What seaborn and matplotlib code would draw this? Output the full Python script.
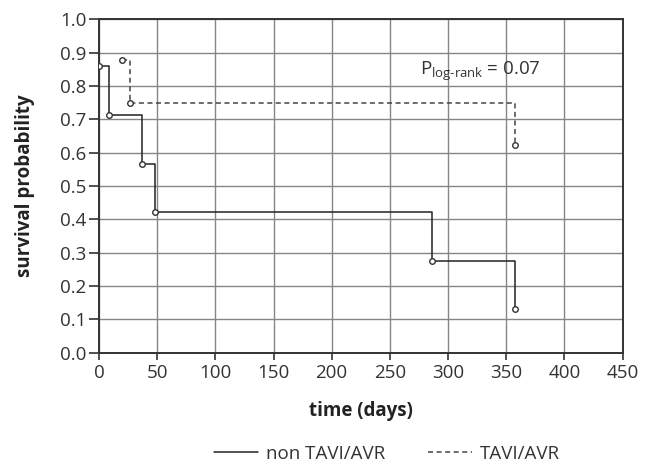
import matplotlib
matplotlib.use("Agg")
import matplotlib.pyplot as plt
from matplotlib.lines import Line2D
import seaborn as sns
import pandas as pd

# Data
non_tavi_days = [0, 8.6, 36.6, 48.5, 286, 357.5]
non_tavi_surv = [0.86, 0.714, 0.565, 0.423, 0.274, 0.130]
tavi_days = [20, 26.6, 357.5]
tavi_surv = [0.878, 0.75, 0.623]
x_ticks = [0, 50, 100, 150, 200, 250, 300, 350, 400, 450]
y_ticks = [0.0, 0.1, 0.2, 0.3, 0.4, 0.5, 0.6, 0.7, 0.8, 0.9, 1.0]
series_labels = ["non TAVI/AVR", "TAVI/AVR"]
p_text = "P$_{\\text{log-rank}}$ = 0.07"

sns.set_style("white")
plt.rcParams['font.family'] = ['Open Sans', 'DejaVu Sans']
plt.rcParams['mathtext.fontset'] = 'custom'
plt.rcParams['mathtext.rm'] = 'Open Sans'
plt.rcParams['mathtext.it'] = 'Open Sans'

FS = 13.5
fig = plt.figure(figsize=(6.52, 4.68), dpi=100)
ax = fig.add_axes([99/652, 1-352.7/468, (622.5-99)/652, (352.7-19.4)/468])

df1 = pd.DataFrame({"t": non_tavi_days, "s": non_tavi_surv})
df2 = pd.DataFrame({"t": tavi_days, "s": tavi_surv})

dark = "#222222"
dash = (0, (3.3, 2.3))
sns.lineplot(data=df1, x="t", y="s", ax=ax, drawstyle="steps-post",
             color=dark, lw=1.1, sort=False, zorder=3)
sns.lineplot(data=df2, x="t", y="s", ax=ax, drawstyle="steps-post",
             color="#444444", lw=1.1, sort=False, zorder=3,
             linestyle=dash)
for d in (df1, df2):
    sns.scatterplot(data=d, x="t", y="s", ax=ax, marker="o", s=16,
                    facecolor="white", edgecolor="#333333", linewidth=1.0,
                    zorder=4)

ax.set_xlim(0, 450)
ax.set_ylim(0, 1.0)
ax.set_xticks(x_ticks)
ax.set_yticks(y_ticks)
ax.set_yticklabels([f"{v:.1f}" for v in y_ticks])
ax.grid(True, color="#858585", lw=1.0)
ax.set_axisbelow(True)
for sp in ax.spines.values():
    sp.set_color("#333333")
    sp.set_linewidth(1.4)
    sp.set_visible(True)
ax.tick_params(axis="both", direction="out", width=1.2,
               color="#333333", labelsize=FS, labelcolor="#333333",
               left=True, bottom=True)
ax.tick_params(axis="y", length=7, pad=2)
ax.tick_params(axis="x", length=5, pad=3)

ax.set_xlabel("time (days)", fontsize=FS, fontweight="bold", color="#222222", labelpad=14)
ax.set_ylabel("survival probability", fontsize=FS, fontweight="bold", color="#222222", labelpad=18)

ax.text(276, 0.833, p_text, fontsize=13.5, color="#333333", ha="left", va="baseline")

handles = [Line2D([], [], color=dark, lw=1.1),
           Line2D([], [], color="#444444", lw=1.1, linestyle=dash)]
fig.legend(handles, series_labels, loc="center", bbox_to_anchor=(0.594, 0.030),
           ncol=2, frameon=False, fontsize=FS, handlelength=2.3,
           handletextpad=0.45, columnspacing=2.3, labelcolor="#333333")

fig.savefig("out.png", dpi=100)
